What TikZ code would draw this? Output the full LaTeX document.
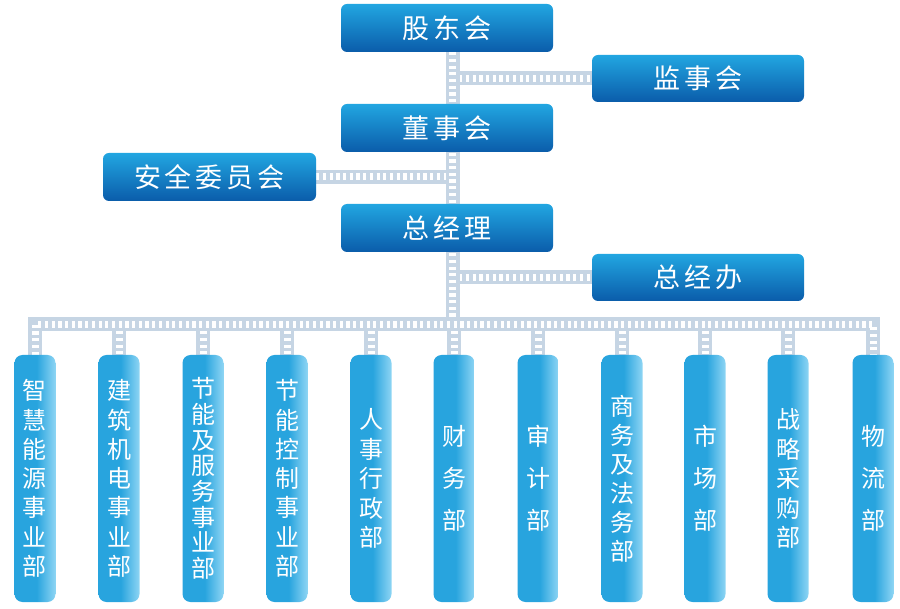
\documentclass[tikz,border=0pt]{standalone}
\usepackage{fontspec}
\newfontfamily\cjk{Noto Sans CJK SC}
\definecolor{topA}{HTML}{22A6E1}
\definecolor{topB}{HTML}{0A5CAA}
\definecolor{deptA}{HTML}{28A4DE}
\definecolor{deptB}{HTML}{8ED5F4}
\definecolor{band}{HTML}{C6D5E4}
\pgfdeclarehorizontalshading{deptshade}{100bp}{color(0bp)=(deptA); color(25bp)=(deptA); color(52bp)=(deptA); color(75bp)=(deptB); color(100bp)=(deptB)}
\pgfdeclarelayer{paper}
\pgfdeclarelayer{background}
\pgfsetlayers{paper,background,main}
\newcommand\cjkgap{\hspace{4pt}}
\tikzset{
  topbox/.style={rectangle, rounded corners=6pt, top color=topA, bottom color=topB,
    minimum width=212pt, minimum height=48pt, inner sep=0pt, text=white,
    font={\cjk\fontsize{27pt}{30pt}\selectfont}},
  dept/.style={rectangle, rounded corners=8pt, shade, shading=deptshade,
    minimum width=41pt, minimum height=247pt, inner sep=0pt, text=white, align=center},
  dept3/.style={dept, font={\cjk\fontsize{24pt}{42pt}\selectfont}},
  dept5/.style={dept, font={\cjk\fontsize{24pt}{29.5pt}\selectfont}},
  dept6/.style={dept, font={\cjk\fontsize{24pt}{29pt}\selectfont}},
  dept7/.style={dept, font={\cjk\fontsize{24pt}{29.3pt}\selectfont}},
  dept8/.style={dept, font={\cjk\fontsize{24pt}{25.7pt}\selectfont}},
  filmstrip/.style={line width=14pt, draw=band,
    postaction={draw=white, line width=7pt, dash pattern=on 3.2pt off 3.5pt}}
}
\begin{document}
\begin{tikzpicture}[x=1pt, y=-1pt]
\begin{pgfonlayer}{paper}
\fill[white] (0,0) rectangle (900,609);
\end{pgfonlayer}
\useasboundingbox (0,0) rectangle (900,609);

% top nodes
\node[topbox] (gdh) at (447,28) {股\cjkgap 东\cjkgap 会};
\node[topbox, minimum height=47pt] (jsh) at (698,78.5) {监\cjkgap 事\cjkgap 会};
\node[topbox] (dsh) at (447,128) {董\cjkgap 事\cjkgap 会};
\node[topbox, minimum width=213pt] (aqw) at (209.5,177) {安\cjkgap 全\cjkgap 委\cjkgap 员\cjkgap 会};
\node[topbox] (zjl) at (447,228) {总\cjkgap 经\cjkgap 理};
\node[topbox, minimum height=47pt] (zjb) at (698,277.5) {总\cjkgap 经\cjkgap 办};

% departments
\node[dept7] (d1) at (35,478.5) {智\\慧\\能\\源\\事\\业\\部};
\node[dept7] (d2) at (119,478.5) {建\\筑\\机\\电\\事\\业\\部};
\node[dept8] (d3) at (203,478.5) {节\\能\\及\\服\\务\\事\\业\\部};
\node[dept7] (d4) at (287,478.5) {节\\能\\控\\制\\事\\业\\部};
\node[dept5] (d5) at (371,478.5) {人\\事\\行\\政\\部};
\node[dept3] (d6) at (454,478.5) {财\\务\\部};
\node[dept3] (d7) at (538,478.5) {审\\计\\部};
\node[dept6] (d8) at (622,478.5) {商\\务\\及\\法\\务\\部};
\node[dept3] (d9) at (705,478.5) {市\\场\\部};
\node[dept5] (d10) at (788,478.5) {战\\略\\采\\购\\部};
\node[dept3] (d11) at (873,478.5) {物\\流\\部};

\coordinate (busy) at (452.5,324.5);

\begin{pgfonlayer}{background}
\foreach \i in {2,...,10}
  \draw[filmstrip] (d\i.north |- busy) -- (d\i.north);
\draw[filmstrip] (busy |- jsh.west) -- (jsh.west);
\draw[filmstrip] (aqw.east) -- (busy |- aqw.east);
\draw[filmstrip] (busy |- zjb.west) -- (zjb.west);
\draw[filmstrip] ([xshift=5.5pt]gdh.south) -- (busy);
\draw[filmstrip] (d1.north) -- (d1.north |- busy) -- (d11.north |- busy) -- (d11.north);
\end{pgfonlayer}
\end{tikzpicture}
\end{document}
